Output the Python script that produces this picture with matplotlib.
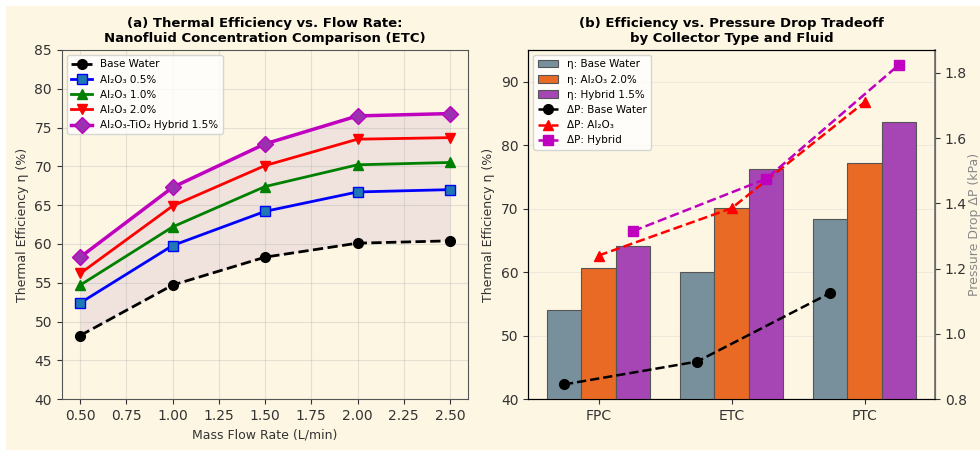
import matplotlib
matplotlib.use('Agg')
import matplotlib.pyplot as plt
import numpy as np
from matplotlib.patches import Rectangle

# ─── Datos ────────────────────────────────────────────────────────────────────
flujo = [0.5, 1.0, 1.5, 2.0, 2.5]
eta_agua = [48.2, 54.7, 58.3, 60.1, 60.4]
eta_al05 = [52.4, 59.8, 64.2, 66.7, 67.0]
eta_al10 = [54.7, 62.2, 67.4, 70.2, 70.5]
eta_al20 = [56.2, 64.9, 70.1, 73.5, 73.7]
eta_hibrido = [58.3, 67.3, 72.9, 76.5, 76.8]

colectores = ['FPC', 'ETC', 'PTC']
bar_agua = [54.0, 60.1, 68.3]
bar_al20 = [60.7, 70.1, 77.2]
bar_hibrido = [64.1, 76.3, 83.6]
dp_agua = [0.845, 0.915, 1.125]
dp_al = [1.24, 1.385, 1.71]
dp_hibrido = [1.315, 1.475, 1.825]

BG = '#fdf6e3'
plt.rcParams['font.family'] = ['DejaVu Sans']

fig = plt.figure(figsize=(9.8, 4.5), dpi=100)
fig.patch.set_facecolor('white')
fig.patches.append(Rectangle((6 / 980, 0), 1, 1 - 6 / 450, transform=fig.transFigure,
                             facecolor=BG, edgecolor='none', zorder=-10))

# ─── (a) Eficiencia vs flujo ─────────────────────────────────────────────────
ax1 = fig.add_axes([0.063, 0.113, 0.415, 0.776])
ax1.set_facecolor(BG)
ax1.fill_between(flujo, eta_agua, eta_hibrido, color='#a06ac0', alpha=0.13, lw=0)
ax1.plot(flujo, eta_agua, 'o--', color='black', lw=2, ms=7, label='Base Water')
ax1.plot(flujo, eta_al05, 's-', color='blue', lw=2, ms=7, mfc='#1f77b4', label='Al₂O₃ 0.5%')
ax1.plot(flujo, eta_al10, '^-', color='green', lw=2, ms=7, label='Al₂O₃ 1.0%')
ax1.plot(flujo, eta_al20, 'v-', color='red', lw=2, ms=7, label='Al₂O₃ 2.0%')
ax1.plot(flujo, eta_hibrido, 'D-', color='m', lw=2.5, ms=8, mfc='#9b30b0', label='Al₂O₃-TiO₂ Hybrid 1.5%')
ax1.set_ylim(40, 85)
ax1.set_xlim(0.4, 2.6)
ax1.set_xticks(np.arange(0.5, 2.51, 0.25))
ax1.set_xticklabels([f'{v:.2f}' for v in np.arange(0.5, 2.51, 0.25)])
ax1.set_xlabel('Mass Flow Rate (L/min)', fontsize=9, color='#333333')
ax1.set_ylabel('Thermal Efficiency η (%)', fontsize=9, color='#333333')
ax1.set_title('(a) Thermal Efficiency vs. Flow Rate:\nNanofluid Concentration Comparison (ETC)',
              fontsize=9.5, fontweight='bold', pad=6)
ax1.grid(True, alpha=0.3, color='#aaaaaa')
ax1.tick_params(labelsize=10, colors='#333333')
ax1.legend(loc='upper left', fontsize=7.5, framealpha=0.8)
for s in ax1.spines.values():
    s.set_color('#555555')

# ─── (b) Eficiencia vs caída de presión ─────────────────────────────────────
ax2 = fig.add_axes([0.539, 0.113, 0.415, 0.776])
ax2.set_facecolor(BG)
x = np.arange(len(colectores))
w = 0.26
b1 = ax2.bar(x - w, bar_agua, w, color='#78909c', edgecolor='#555555', lw=0.8, label='η: Base Water', zorder=3)
b2 = ax2.bar(x, bar_al20, w, color='#e86a24', edgecolor='#555555', lw=0.8, label='η: Al₂O₃ 2.0%', zorder=3)
b3 = ax2.bar(x + w, bar_hibrido, w, color='#a646b5', edgecolor='#555555', lw=0.8, label='η: Hybrid 1.5%', zorder=3)
ax2.set_ylim(40, 95)
ax2.set_xticks(x)
ax2.set_xticklabels(colectores)
ax2.set_ylabel('Thermal Efficiency η (%)', fontsize=9, color='#333333')
ax2.set_title('(b) Efficiency vs. Pressure Drop Tradeoff\nby Collector Type and Fluid',
              fontsize=9.5, fontweight='bold', pad=6)
ax2.grid(True, axis='y', alpha=0.3, color='#cccccc', zorder=0)
ax2.tick_params(labelsize=10, colors='#333333')

ax3 = ax2.twinx()
l1, = ax3.plot(x - w, dp_agua, 'o--', color='black', lw=1.8, ms=7, label='ΔP: Base Water')
l2, = ax3.plot(x, dp_al, '^--', color='red', lw=1.8, ms=7, label='ΔP: Al₂O₃')
l3, = ax3.plot(x + w, dp_hibrido, 's--', color='m', lw=1.8, ms=7, label='ΔP: Hybrid')
ax3.set_ylim(0.8, 1.87)
ax3.set_yticks([0.8, 1.0, 1.2, 1.4, 1.6, 1.8])
ax3.set_ylabel('Pressure Drop ΔP (kPa)', fontsize=9, color='#888888', labelpad=1)
ax3.tick_params(labelsize=10, colors='#333333')
ax3.spines['right'].set_color('#777777')
ax3.spines['right'].set_linewidth(1.3)
ax3.legend([b1, b2, b3, l1, l2, l3],
           [h.get_label() for h in [b1, b2, b3, l1, l2, l3]],
           loc='upper left', fontsize=7.5, framealpha=0.8)

plt.savefig('out.png', dpi=100, facecolor='white')
plt.close()
